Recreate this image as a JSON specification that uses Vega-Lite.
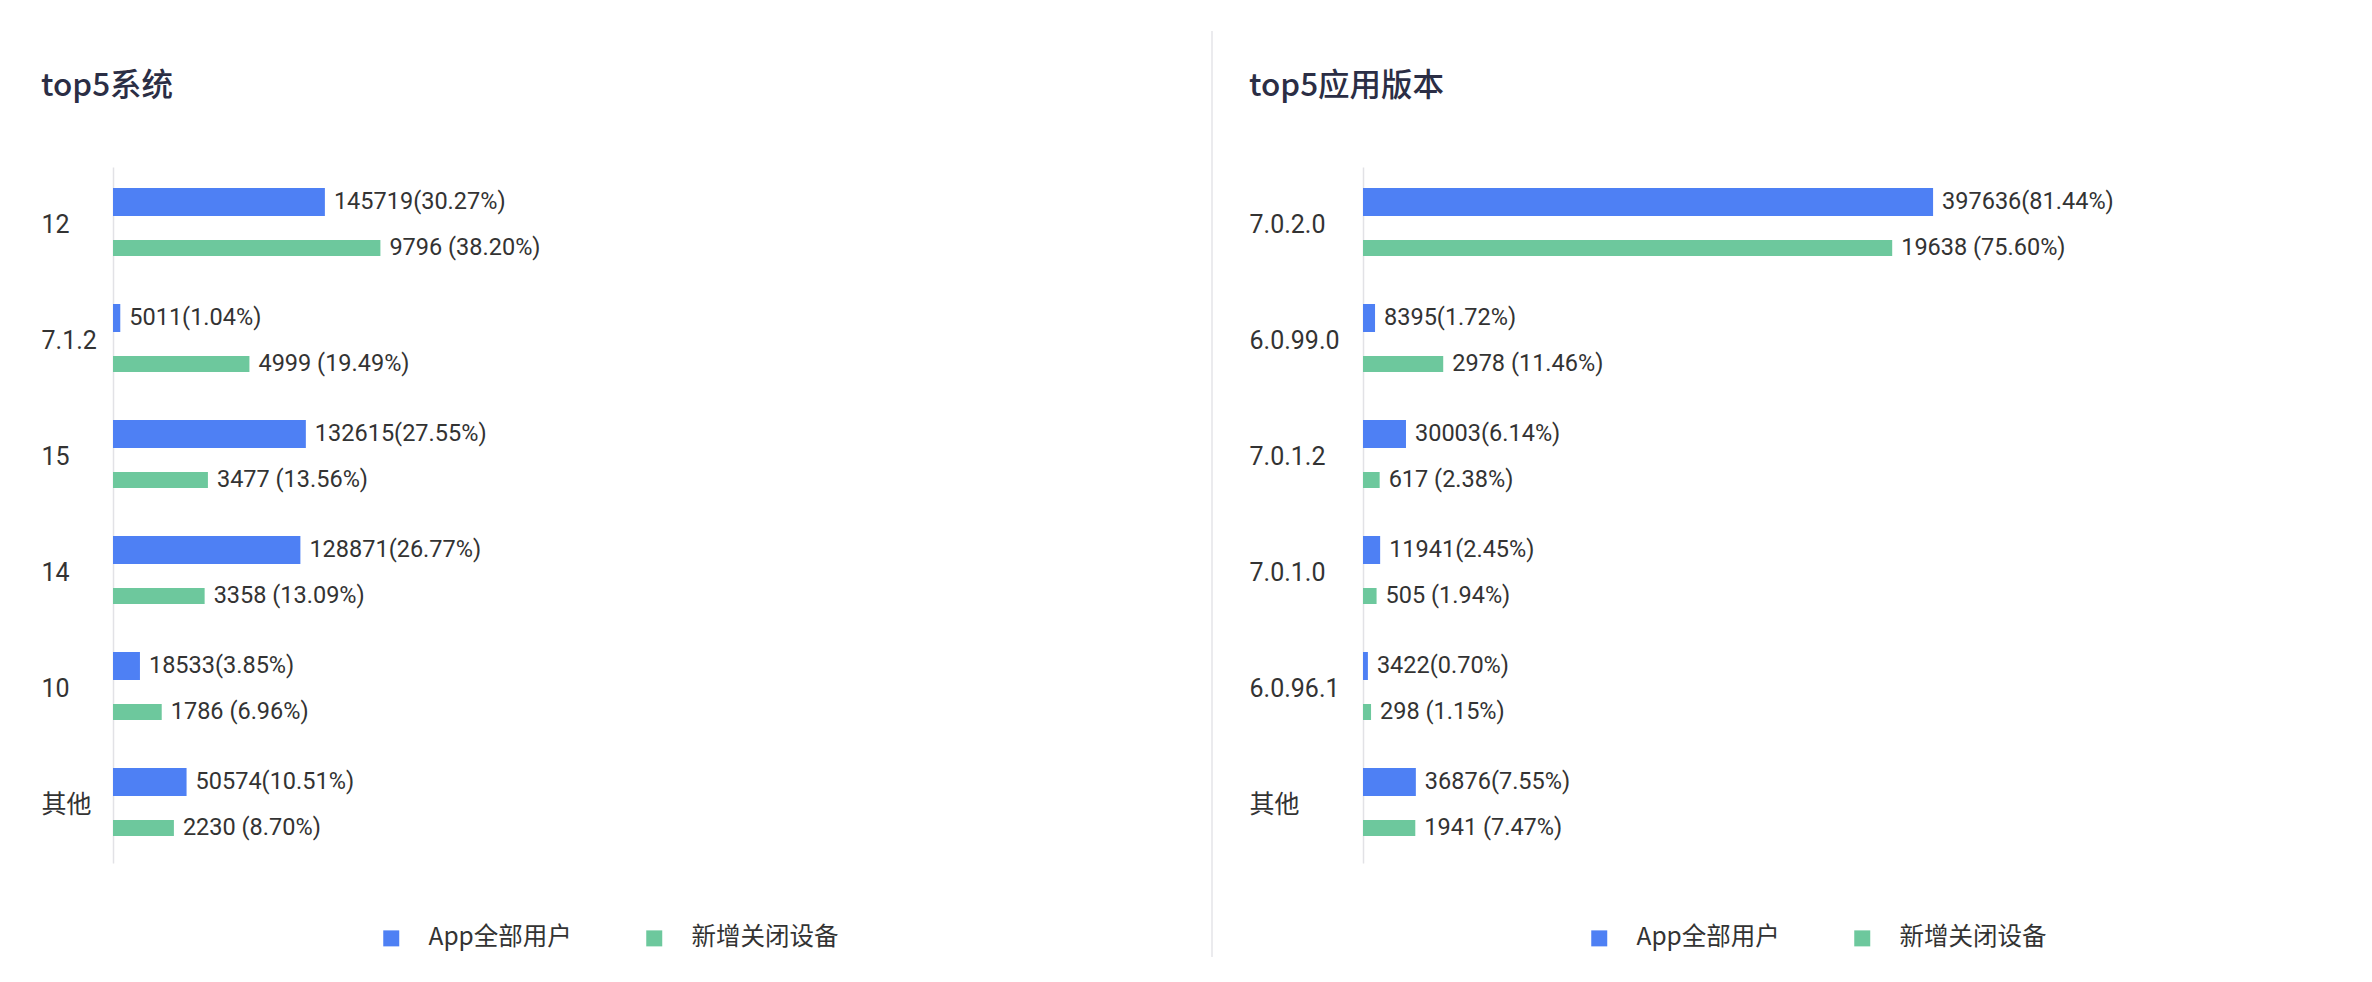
{
  "$schema": "https://vega.github.io/schema/vega-lite/v6.json",
  "background": "#ffffff",
  "padding": {"left": 41, "top": 30, "right": 0, "bottom": 0},
  "datasets": {
    "sys": [
      {"cat": "12", "series": "App全部用户", "count": 145719, "pct": 30.27, "label": "145719(30.27%)"},
      {"cat": "12", "series": "新增关闭设备", "count": 9796, "pct": 38.20, "label": "9796 (38.20%)"},
      {"cat": "7.1.2", "series": "App全部用户", "count": 5011, "pct": 1.04, "label": "5011(1.04%)"},
      {"cat": "7.1.2", "series": "新增关闭设备", "count": 4999, "pct": 19.49, "label": "4999 (19.49%)"},
      {"cat": "15", "series": "App全部用户", "count": 132615, "pct": 27.55, "label": "132615(27.55%)"},
      {"cat": "15", "series": "新增关闭设备", "count": 3477, "pct": 13.56, "label": "3477 (13.56%)"},
      {"cat": "14", "series": "App全部用户", "count": 128871, "pct": 26.77, "label": "128871(26.77%)"},
      {"cat": "14", "series": "新增关闭设备", "count": 3358, "pct": 13.09, "label": "3358 (13.09%)"},
      {"cat": "10", "series": "App全部用户", "count": 18533, "pct": 3.85, "label": "18533(3.85%)"},
      {"cat": "10", "series": "新增关闭设备", "count": 1786, "pct": 6.96, "label": "1786 (6.96%)"},
      {"cat": "其他", "series": "App全部用户", "count": 50574, "pct": 10.51, "label": "50574(10.51%)"},
      {"cat": "其他", "series": "新增关闭设备", "count": 2230, "pct": 8.70, "label": "2230 (8.70%)"}
    ],
    "ver": [
      {"cat": "7.0.2.0", "series": "App全部用户", "count": 397636, "pct": 81.44, "label": "397636(81.44%)"},
      {"cat": "7.0.2.0", "series": "新增关闭设备", "count": 19638, "pct": 75.60, "label": "19638 (75.60%)"},
      {"cat": "6.0.99.0", "series": "App全部用户", "count": 8395, "pct": 1.72, "label": "8395(1.72%)"},
      {"cat": "6.0.99.0", "series": "新增关闭设备", "count": 2978, "pct": 11.46, "label": "2978 (11.46%)"},
      {"cat": "7.0.1.2", "series": "App全部用户", "count": 30003, "pct": 6.14, "label": "30003(6.14%)"},
      {"cat": "7.0.1.2", "series": "新增关闭设备", "count": 617, "pct": 2.38, "label": "617 (2.38%)"},
      {"cat": "7.0.1.0", "series": "App全部用户", "count": 11941, "pct": 2.45, "label": "11941(2.45%)"},
      {"cat": "7.0.1.0", "series": "新增关闭设备", "count": 505, "pct": 1.94, "label": "505 (1.94%)"},
      {"cat": "6.0.96.1", "series": "App全部用户", "count": 3422, "pct": 0.70, "label": "3422(0.70%)"},
      {"cat": "6.0.96.1", "series": "新增关闭设备", "count": 298, "pct": 1.15, "label": "298 (1.15%)"},
      {"cat": "其他", "series": "App全部用户", "count": 36876, "pct": 7.55, "label": "36876(7.55%)"},
      {"cat": "其他", "series": "新增关闭设备", "count": 1941, "pct": 7.47, "label": "1941 (7.47%)"}
    ]
  },
  "spacing": 36,
  "hconcat": [
    {
      "data": {"name": "sys"},
      "width": 1062,
      "height": 696,
      "title": {"text": "top5系统", "anchor": "start", "frame": "bounds", "offset": 65},
      "encoding": {
        "y": {"field": "cat", "type": "nominal", "sort": null,
              "scale": {"domain": ["12", "7.1.2", "15", "14", "10", "其他"], "paddingInner": 0, "paddingOuter": 0},
              "axis": {"labelPadding": 72}},
        "x": {"field": "pct", "type": "quantitative", "scale": {"domain": [0, 151.714], "nice": false}, "axis": null}
      },
      "layer": [
        {"transform": [{"filter": "datum.series === 'App全部用户'"}],
         "mark": {"type": "bar", "height": 28, "yOffset": -23},
         "encoding": {"color": {"field": "series", "type": "nominal",
            "scale": {"domain": ["App全部用户", "新增关闭设备"], "range": ["#4e80f4", "#6dc89d"]},
            "legend": {"legendX": 266, "legendY": 759}}}},
        {"transform": [{"filter": "datum.series === '新增关闭设备'"}],
         "mark": {"type": "bar", "height": 16, "yOffset": 23},
         "encoding": {"color": {"field": "series", "type": "nominal"}}},
        {"transform": [{"filter": "datum.series === 'App全部用户'"}],
         "mark": {"type": "text", "align": "left", "baseline": "middle", "dx": 9, "yOffset": -23},
         "encoding": {"text": {"field": "label"}}},
        {"transform": [{"filter": "datum.series === '新增关闭设备'"}],
         "mark": {"type": "text", "align": "left", "baseline": "middle", "dx": 9, "yOffset": 23},
         "encoding": {"text": {"field": "label"}}}
      ]
    },
    {
      "data": {"values": [{"k": 1}]},
      "width": 1,
      "height": 696,
      "mark": {"type": "rule", "color": "#e4e4e8", "strokeWidth": 1.5},
      "encoding": {"x": {"value": 0}, "y": {"value": -136}, "y2": {"value": 790}}
    },
    {
      "data": {"name": "ver"},
      "width": 1000,
      "height": 696,
      "title": {"text": "top5应用版本", "anchor": "start", "frame": "bounds", "offset": 65},
      "encoding": {
        "y": {"field": "cat", "type": "nominal", "sort": null,
              "scale": {"domain": ["7.0.2.0", "6.0.99.0", "7.0.1.2", "7.0.1.0", "6.0.96.1", "其他"], "paddingInner": 0, "paddingOuter": 0},
              "axis": {"labelPadding": 114}},
        "x": {"field": "pct", "type": "quantitative", "scale": {"domain": [0, 142.857], "nice": false}, "axis": null}
      },
      "layer": [
        {"transform": [{"filter": "datum.series === 'App全部用户'"}],
         "mark": {"type": "bar", "height": 28, "yOffset": -23},
         "encoding": {"color": {"field": "series", "type": "nominal",
            "scale": {"domain": ["App全部用户", "新增关闭设备"], "range": ["#4e80f4", "#6dc89d"]},
            "legend": {"legendX": 224, "legendY": 759}}}},
        {"transform": [{"filter": "datum.series === '新增关闭设备'"}],
         "mark": {"type": "bar", "height": 16, "yOffset": 23},
         "encoding": {"color": {"field": "series", "type": "nominal"}}},
        {"transform": [{"filter": "datum.series === 'App全部用户'"}],
         "mark": {"type": "text", "align": "left", "baseline": "middle", "dx": 9, "yOffset": -23},
         "encoding": {"text": {"field": "label"}}},
        {"transform": [{"filter": "datum.series === '新增关闭设备'"}],
         "mark": {"type": "text", "align": "left", "baseline": "middle", "dx": 9, "yOffset": 23},
         "encoding": {"text": {"field": "label"}}}
      ]
    }
  ],
  "resolve": {"scale": {"color": "independent", "y": "independent", "x": "independent"}, "legend": {"color": "independent"}},
  "config": {
    "view": {"stroke": null},
    "font": "Roboto, 'Noto Sans CJK SC'",
    "title": {"fontSize": 31.5, "font": "'Noto Sans CJK SC'", "fontWeight": 500, "color": "#2b2e45"},
    "axisY": {"title": null, "ticks": false, "tickSize": 0, "grid": false, "labelAlign": "left", "labelBaseline": "middle",
              "labelFont": "Roboto, 'Noto Sans CJK SC'", "labelFontSize": 25, "labelColor": "#333333",
              "domainColor": "#e2e2e6", "domainWidth": 1.5},
    "text": {"font": "Roboto", "fontSize": 23.5, "color": "#333333"},
    "legend": {"orient": "none", "direction": "horizontal", "title": null, "symbolType": "square", "symbolSize": 256,
               "symbolStrokeWidth": 0, "labelFont": "'Noto Sans CJK SC'", "labelFontSize": 24.5, "labelColor": "#333333",
               "labelOffset": 25, "columnPadding": 70, "padding": 0, "labelLimit": 0}
  }
}
